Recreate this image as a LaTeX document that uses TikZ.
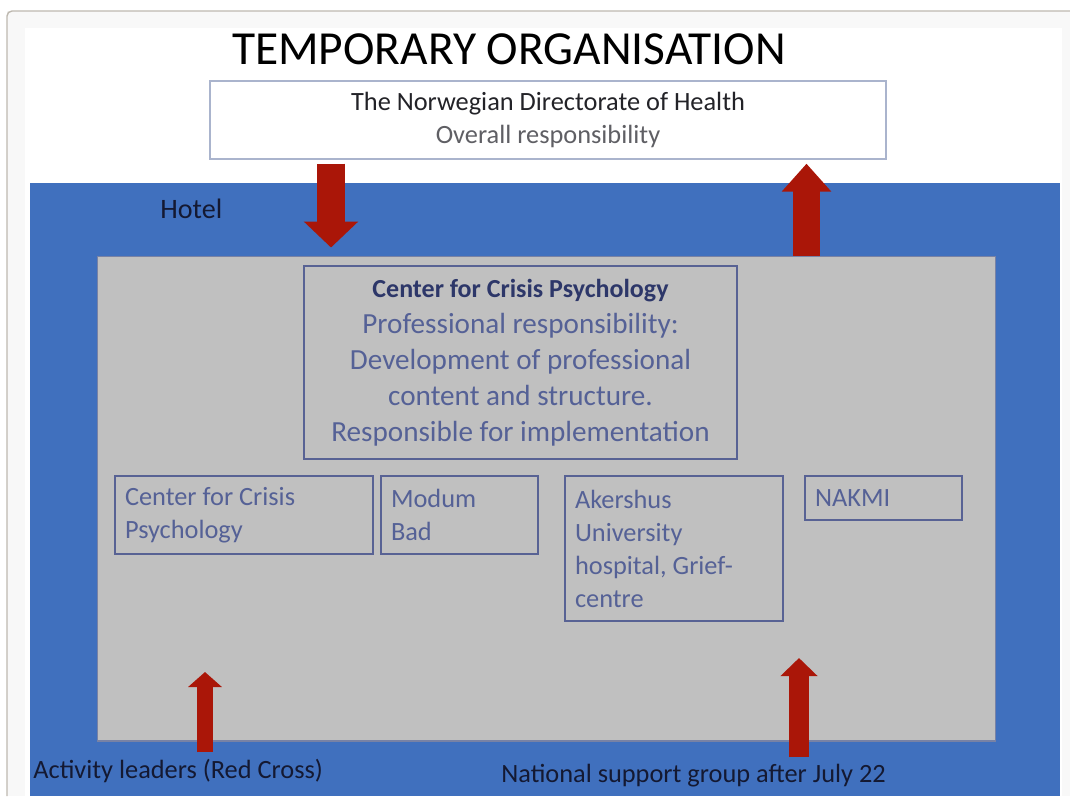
\documentclass[tikz,border=0pt]{standalone}
\usepackage{fontspec}
\setmainfont{Carlito}
\usetikzlibrary{arrows.meta}

\definecolor{framegray}{RGB}{190,185,176}
\definecolor{bandgray}{RGB}{248,248,248}
\definecolor{dirline}{RGB}{170,180,205}
\definecolor{dirtext}{RGB}{35,35,40}
\definecolor{dirsub}{RGB}{95,95,100}
\definecolor{hotelblue}{RGB}{64,112,190}
\definecolor{panelgray}{RGB}{192,192,192}
\definecolor{panelline}{RGB}{120,130,165}
\definecolor{boxline}{RGB}{88,98,148}
\definecolor{ccphead}{RGB}{45,55,105}
\definecolor{unittext}{RGB}{85,97,150}
\definecolor{darktext}{RGB}{20,25,50}
\definecolor{arrowred}{RGB}{170,22,8}

\begin{document}
\begin{tikzpicture}[x=0.02cm, y=-0.02cm]

% --- Define reusable styles ---
\tikzset{
    box/.style={draw=boxline, line width=0.8pt, inner sep=0pt},
    unitbox/.style={box, align=flush left, inner xsep=0.2cm, text=unittext,
        font=\fontsize{15}{18.8}\selectfont},
    redarrow/.style n args={3}{draw=arrowred, line width=#1,
        -{Triangle[width=#2, length=#3]}},
    label/.style={anchor=base west, inner sep=0pt, text=darktext,
        font=\fontsize{15}{18}\selectfont}
}
% x positions of the red arrows
\coordinate (downx) at (331,0);
\coordinate (upx) at (806.5,0);
\coordinate (redcrossTip) at (205,672);
\coordinate (supportTip) at (799,658);

\useasboundingbox (0,0) rectangle (1070,796);

% 1. Slide frame
\fill[white] (0,0) rectangle (1070,796);
\fill[bandgray] (7,11) rectangle (1070,796);
\draw[framegray, line width=0.8pt, rounded corners=0.1cm] (7,796) -- (7,11) -- (1070,11);
\fill[white] (25,28) rectangle (1062,796);

% 2. Title and the directorate
\node[anchor=base, inner sep=0pt, font=\fontsize{27}{32}\selectfont] (title) at (509,64) {TEMPORARY ORGANISATION};
\node[draw=dirline, line width=0.8pt, fill=white, inner sep=0pt, minimum width=13.52cm, minimum height=1.56cm,
      align=center, font=\fontsize{15}{18.8}\selectfont] (dir) at (548,120)
      {\textcolor{dirtext}{The Norwegian Directorate of Health}\\\textcolor{dirsub}{Overall responsibility}};

% 3. Hotel area and the inner panel
\node[fill=hotelblue, inner sep=0pt, minimum width=20.6cm, minimum height=12.26cm] (hotel) at (545,489.5) {};
\node[anchor=base west, inner sep=0pt, text=darktext, font=\fontsize{16}{19}\selectfont] (hotellabel) at (160,218) {Hotel};
\node[fill=panelgray, draw=panelline, line width=0.6pt, inner sep=0pt, minimum width=17.98cm, minimum height=9.7cm] (care) at (546.5,498.5) {};

% 4. Center for Crisis Psychology
\node[box, minimum width=8.66cm, minimum height=3.86cm, align=center, text=unittext,
      font=\fontsize{16.6}{20.5}\selectfont] (ccp) at (520.5,362.5)
      {{\fontsize{14.8}{18}\selectfont\bfseries\color{ccphead}Center for Crisis Psychology}\\
       Professional responsibility:\\
       Development of professional\\
       content and structure.\\
       Responsible for implementation};

% 5. Units
\node[unitbox, text width=4.76cm, minimum height=1.56cm] (unitccp) at (244,515) {Center for Crisis\\Psychology};
\node[unitbox, text width=2.74cm, minimum height=1.56cm] (modum) at (459.5,515) {Modum\\Bad};
\node[unitbox, text width=3.96cm, minimum height=2.9cm] (ahus) at (674,548.5) {Akershus\\University\\hospital, Grief-\\centre};
\node[unitbox, text width=2.74cm, minimum height=0.88cm] (nakmi) at (883.5,498) {NAKMI};

% 6. Arrows
\draw[redarrow={0.56cm}{1.06cm}{0.52cm}, shorten <=0.08cm, shorten >=0.16cm] (dir.south -| downx) -- (care.north -| downx);
\draw[redarrow={0.54cm}{0.96cm}{0.56cm}, shorten >=0.08cm] (care.north -| upx) -- (dir.south -| upx);

% 7. Helpers at the bottom
\node[label] (redcross) at (33,778) {Activity leaders (Red Cross)};
\node[label] (support) at (501,782) {National support group after July 22};
\draw[redarrow={0.32cm}{0.66cm}{0.3cm}, shorten <=0.12cm] (redcross.north -| redcrossTip) -- (redcrossTip);
\draw[redarrow={0.4cm}{0.72cm}{0.36cm}, shorten <=0.12cm] (support.north -| supportTip) -- (supportTip);

\end{tikzpicture}
\end{document}
